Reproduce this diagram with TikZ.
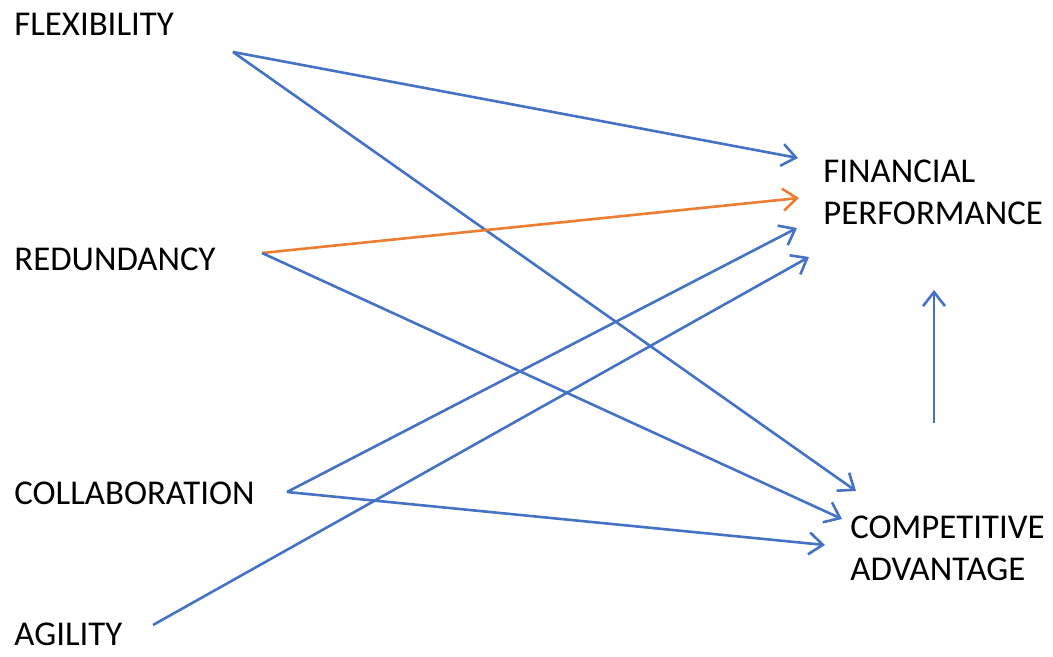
\documentclass[tikz,border=0pt]{standalone}
\usepackage{fontspec}
\setmainfont{Carlito}
\usetikzlibrary{arrows.meta}
\definecolor{linkblue}{RGB}{68,114,196}
\definecolor{linkorange}{RGB}{237,125,49}
\tikzset{
	label/.style={anchor=base west, inner sep=0pt, align=left, font=\fontsize{17.4}{21}\selectfont},
	link/.style={linkblue, line width=1.3pt, -{Straight Barb[length=7pt, width=11pt, line width=1.3pt]}},
}
\begin{document}
\begin{tikzpicture}[x=0.5pt, y=-0.5pt]
		\useasboundingbox (0,0) rectangle (1053,657);

		\node[label] (flex) at (14,36) {FLEXIBILITY};
		\node[label] (red) at (14,271) {REDUNDANCY};
		\node[label] (coll) at (14,504) {COLLABORATION};
		\node[label] (agil) at (14,645) {AGILITY};

		\node[label] (fin) at (823,225) {FINANCIAL\\PERFORMANCE};
		\node[label] (comp) at (850,580) {COMPETITIVE\\ADVANTAGE};

		\coordinate (flex-out) at (233,52);
		\coordinate (red-out) at (262,253);
		\coordinate (coll-out) at (287,492);
		\coordinate (agil-out) at (153,625);
		\coordinate (comp-out) at (934,423);

		\coordinate (fin-in1) at (798,158);
		\coordinate (fin-in2) at (799,198);
		\coordinate (fin-in3) at (797,228);
		\coordinate (fin-in4) at (809,257);
		\coordinate (fin-in5) at (934,290);

		\coordinate (comp-in1) at (856,491);
		\coordinate (comp-in2) at (842,519);
		\coordinate (comp-in3) at (825,545);

		\draw[link] (flex-out) -- (fin-in1);
		\draw[link] (flex-out) -- (comp-in1);

		\draw[link, linkorange] (red-out) -- (fin-in2);
		\draw[link] (red-out) -- (comp-in2);

		\draw[link] (coll-out) -- (fin-in3);
		\draw[link] (coll-out) -- (comp-in3);

		\draw[link] (agil-out) -- (fin-in4);

		\draw[link] (comp-out) -- (fin-in5);
	\end{tikzpicture}
\end{document}
